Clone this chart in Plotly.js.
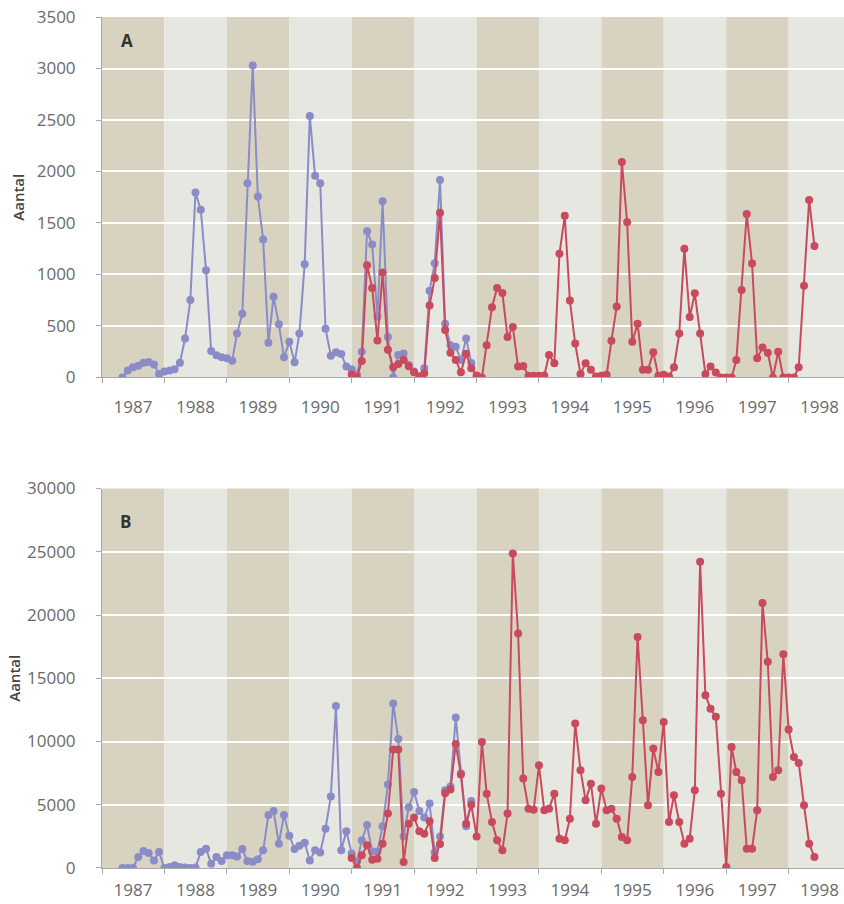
<!DOCTYPE html>
<html>
<head>
<meta charset="utf-8">
<script src="https://cdn.plot.ly/plotly-3.0.1.min.js"></script>
<style>
  html, body { margin: 0; padding: 0; background: #ffffff; }
  #chart { width: 844px; height: 904px; }
</style>
</head>
<body>
<div id="chart"></div>
<script>
// ---- data (monthly values) ----
const years = [1987, 1988, 1989, 1990, 1991, 1992, 1993, 1994, 1995, 1996, 1997, 1998];
const yearLabels = ['1987','1988','1989','1990','1991','1992','1993','1994','1995','1996','1997','1998'];

// blue series: May 1987 .. Dec 1992
const blueStart = '1987-05';
const blueA = [
  0, 67, 100, 115, 144, 150, 125, 35,
  58, 67, 80, 144, 378, 753, 1795, 1628, 1042, 256, 215, 196,
  186, 163, 426, 619, 1885, 3030, 1756, 1340, 337, 785, 516, 196,
  346, 147, 426, 1100, 2540, 1958, 1885, 474, 212, 244, 228, 106,
  80, 30, 250, 1420, 1290, 590, 1710, 394, 0, 218, 234, 122,
  58, 10, 90, 843, 1110, 1917, 522, 314, 298, 170, 378, 140
];
const blueB = [
  0, 0, 0, 870, 1345, 1190, 600, 1270,
  0, 80, 210, 80, 30, 0, 30, 1270, 1530, 340, 870, 550,
  1000, 1000, 900, 1500, 550, 500, 700, 1400, 4200, 4500, 1925, 4200,
  2550, 1500, 1750, 2000, 600, 1400, 1230, 3100, 5650, 12800, 1400, 2900,
  1150, 500, 2200, 3400, 1300, 1300, 3300, 6600, 13000, 10200, 2500, 4800,
  6000, 4500, 4000, 5100, 1250, 2500, 6150, 6450, 11900, 7500, 3300, 5300
];

// red series: Jan 1991 .. Jun 1998
const redStart = '1991-01';
const redA = [
  30, 0, 160, 1090, 870, 360, 1020, 270, 100, 130, 170, 110,
  50, 10, 40, 700, 965, 1600, 460, 240, 170, 50, 230, 90,
  20, 0, 314, 683, 870, 820, 394, 490, 106, 112, 16, 16,
  16, 20, 218, 138, 1202, 1570, 747, 330, 35, 138, 74, 10,
  16, 26, 356, 689, 2093, 1506, 346, 522, 74, 74, 244, 16,
  26, 10, 100, 426, 1250, 587, 817, 426, 35, 106, 48, 0,
  0, 0, 170, 849, 1587, 1106, 186, 292, 240, 0, 250, 0,
  0, 0, 100, 891, 1724, 1276
];
const redB = [
  800, 0, 1000, 1790, 660, 740, 1925, 4300, 9360, 9360, 475, 3500,
  4000, 2900, 2700, 3700, 800, 1900, 5900, 6200, 9800, 7400, 3500, 5000,
  2500, 9970, 5880, 3640, 2190, 1400, 4300, 24870, 18540, 7070, 4690, 4610,
  8120, 4560, 4690, 5880, 2320, 2190, 3900, 11420, 7730, 5350, 6670, 3500,
  6280, 4560, 4690, 3900, 2450, 2190, 7200, 18270, 11680, 4960, 9440, 7590,
  11550, 3640, 5750, 3640, 1925, 2320, 6140, 24210, 13660, 12600, 11950, 5880,
  80, 9570, 7590, 6940, 1530, 1530, 4560, 20960, 16300, 7200, 7730, 16900,
  10940, 8780, 8310, 4960, 1925, 870
];

// ---- helpers ----
function monthDates(start, n) {
  let [y, m] = start.split('-').map(Number);
  const out = [];
  for (let i = 0; i < n; i++) {
    out.push(y + '-' + String(m).padStart(2, '0') + '-01');
    m++; if (m > 12) { m = 1; y++; }
  }
  return out;
}

const BLUE = '#8a8cc8';
const RED = '#c84a5c';
const TAN = '#d8d3c1';
const LIGHT = '#e7e7e1';
const AXIS = '#a8a8a8';
const TICKFONT = { family: 'Open Sans, sans-serif', size: 17, color: '#6a6a6a' };

const blueX = monthDates(blueStart, blueA.length);
const redX = monthDates(redStart, redA.length);

function trace(x, y, color, xa, ya) {
  return {
    x: x, y: y, xaxis: xa, yaxis: ya, type: 'scatter', mode: 'lines+markers',
    line: { color: color, width: 2 },
    marker: { color: color, size: 8 },
    hoverinfo: 'x+y', showlegend: false
  };
}

const data = [
  trace(blueX, blueA, BLUE, 'x', 'y'),
  trace(redX, redA, RED, 'x', 'y'),
  trace(blueX, blueB, BLUE, 'x2', 'y2'),
  trace(redX, redB, RED, 'x2', 'y2')
];

// year bands
const shapes = [];
years.forEach((yr, i) => {
  const fill = (i % 2 === 0) ? TAN : LIGHT;
  [['x', 'y domain'], ['x2', 'y2 domain']].forEach(([xr, yr2]) => {
    shapes.push({
      type: 'rect', layer: 'below', xref: xr, yref: yr2,
      x0: yr + '-01-01', x1: (yr + 1) + '-01-01', y0: 0, y1: 1,
      fillcolor: fill, line: { width: 0 }
    });
  });
});

const midYear = years.map(y => y + '-07-01');
const xRange = ['1987-01-01', '1998-11-21'];

function xaxis(anchor, standoff) {
  return {
    anchor: anchor, domain: [0, 1], type: 'date', range: xRange,
    tickmode: 'array', tickvals: midYear, ticktext: yearLabels,
    ticks: '', showgrid: false, zeroline: false,
    showline: true, linecolor: AXIS, linewidth: 1,
    tickfont: TICKFONT, ticklabelstandoff: standoff,
    minor: { tickmode: 'linear', tick0: '1987-01-01', dtick: 'M12',
             ticks: 'outside', ticklen: 5, tickcolor: AXIS, tickwidth: 1, showgrid: false },
    fixedrange: true
  };
}

function yaxis(anchor, domain, range, dtick, standoff) {
  return {
    anchor: anchor, domain: domain, range: range, dtick: dtick, tickformat: 'd',
    showgrid: true, gridcolor: '#ffffff', gridwidth: 2,
    zeroline: false, showline: true, linecolor: AXIS, linewidth: 1,
    ticks: 'outside', ticklen: 5, tickcolor: AXIS,
    tickfont: TICKFONT, ticklabelstandoff: 17,
    title: { text: 'Aantal', standoff: standoff,
             font: { family: 'Open Sans, sans-serif', size: 15, color: '#444', weight: 600 } },
    fixedrange: true
  };
}

const layout = {
  width: 844, height: 904,
  margin: { l: 102, r: 0, t: 17, b: 36 },
  paper_bgcolor: '#ffffff', plot_bgcolor: '#ffffff',
  xaxis: xaxis('y', 14),
  xaxis2: xaxis('y2', 7),
  yaxis: yaxis('x', [0.5764, 1], [0, 3500], 500, 8),
  yaxis2: yaxis('x2', [0, 0.4459], [0, 30000], 5000, 2),
  shapes: shapes,
  annotations: [
    { text: '<b>A</b>', xref: 'x domain', yref: 'y domain', x: 0.034, y: 0.936,
      xanchor: 'center', yanchor: 'middle',
      showarrow: false, font: { family: 'Open Sans, sans-serif', size: 17, color: '#333' } },
    { text: '<b>B</b>', xref: 'x2 domain', yref: 'y2 domain', x: 0.031, y: 0.914,
      xanchor: 'center', yanchor: 'middle',
      showarrow: false, font: { family: 'Open Sans, sans-serif', size: 17, color: '#333' } }
  ],
  showlegend: false
};

Plotly.newPlot('chart', data, layout, { displayModeBar: false, staticPlot: true });
</script>
</body>
</html>
